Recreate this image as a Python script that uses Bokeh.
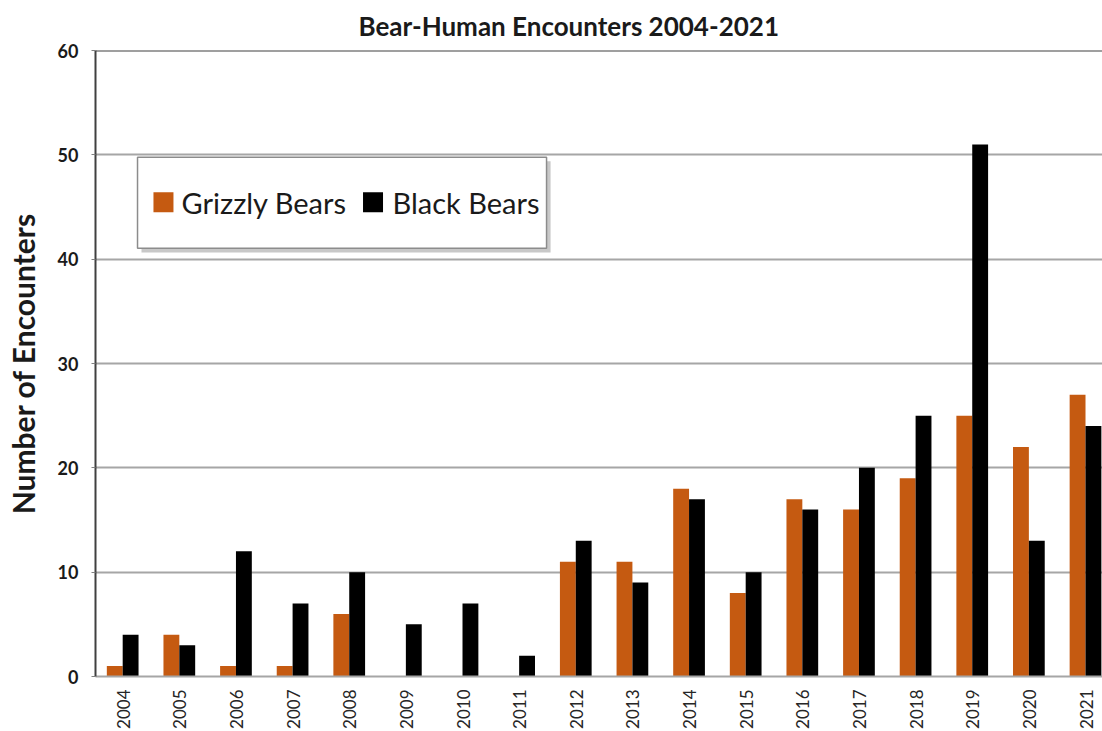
from math import pi

from bokeh.core.properties import value
from bokeh.embed import file_html
from bokeh.models import ColumnDataSource, FixedTicker, Range1d, Span
from bokeh.plotting import figure
from bokeh.resources import INLINE

# Encounter counts per year
years = ["2004", "2005", "2006", "2007", "2008", "2009", "2010", "2011", "2012",
         "2013", "2014", "2015", "2016", "2017", "2018", "2019", "2020", "2021"]
grizzly = [1, 4, 1, 1, 6, 0, 0, 0, 11, 11, 18, 8, 17, 16, 19, 25, 22, 27]
black = [4, 3, 12, 7, 10, 5, 7, 2, 13, 9, 17, 10, 16, 20, 25, 51, 13, 24]
y_ticks = [0, 10, 20, 30, 40, 50, 60]

ORANGE = "#C55A11"
BLACK = "#000000"
TEXT = "#1a1a1a"
FONT = "Lato"

idx = list(range(len(years)))
src = ColumnDataSource(dict(
    idx=idx,
    x_griz=[i + 0.34 for i in idx],
    x_black=[i + 0.62 for i in idx],
    grizzly=grizzly,
    black=black,
))

p = figure(
    width=1102, height=731,
    x_range=Range1d(0, 17.78), y_range=Range1d(0, 60),
    output_backend="svg", toolbar_location=None,
    min_border_left=95, min_border_right=0, min_border_top=50, min_border_bottom=55,
)
p.outline_line_color = None
p.background_fill_color = "white"
p.border_fill_color = "white"

# title
p.title.text = "Bear-Human Encounters 2004-2021"
p.title.text_font = FONT
p.title.text_font_style = "bold"
p.title.text_font_size = "26px"
p.title.text_color = TEXT
p.title.align = "left"
p.title.offset = 263
p.title.vertical_align = "middle"
p.title.standoff = 16

# bars
bw = 0.28
p.vbar(x="x_griz", top="grizzly", width=bw, source=src, fill_color=ORANGE, line_color=None)
p.vbar(x="x_black", top="black", width=bw, source=src, fill_color=BLACK, line_color=None)

# y axis
p.yaxis.ticker = FixedTicker(ticks=y_ticks)
p.yaxis.axis_line_color = "#404040"
p.yaxis.axis_line_width = 2
p.yaxis.major_tick_in = 0
p.yaxis.major_tick_out = 4
p.yaxis.major_tick_line_color = "#808080"
p.yaxis.minor_tick_line_color = None
p.yaxis.major_label_standoff = 13
p.yaxis.major_label_text_font = FONT
p.yaxis.major_label_text_font_style = "bold"
p.yaxis.major_label_text_font_size = "18px"
p.yaxis.major_label_text_color = TEXT
p.yaxis.axis_label = "Number of Encounters"
p.yaxis.axis_label_text_font = FONT
p.yaxis.axis_label_text_font_style = "bold"
p.yaxis.axis_label_text_font_size = "30px"
p.yaxis.axis_label_text_color = TEXT
p.yaxis.axis_label_standoff = 14

# x axis: one tick per year, labels written vertically
p.xaxis.ticker = FixedTicker(ticks=[i + 0.49 for i in idx])
p.xaxis.major_label_overrides = {i + 0.49: y for i, y in zip(idx, years)}
p.xaxis.major_label_orientation = pi / 2
p.xaxis.axis_line_color = "#a6a6a6"
p.xaxis.axis_line_width = 2
p.xaxis.major_tick_line_color = None
p.xaxis.minor_tick_line_color = None
p.xaxis.major_label_standoff = 7
p.xaxis.major_label_text_font = FONT
p.xaxis.major_label_text_font_size = "17px"
p.xaxis.major_label_text_color = "#262626"

# grid
p.xgrid.grid_line_color = None
p.ygrid.ticker = FixedTicker(ticks=y_ticks[1:-1])
p.ygrid.grid_line_color = "#a6a6a6"
p.ygrid.grid_line_width = 2

# top border of the plot area
p.add_layout(Span(location=60, dimension="width", line_color="#404040", line_width=2))

# legend panel with a soft drop shadow
p.quad(left=0.812, right=8.035, top=49.38, bottom=40.65,
       fill_color="#9a9a9a", fill_alpha=0.55, line_color=None)
p.quad(left=0.742, right=7.964, top=49.76, bottom=41.04,
       fill_color="white", line_color="#8c8c8c", line_width=1.5)
p.rect(x=[1.2, 4.9], y=[45.45, 45.45], width=20, height=20,
       width_units="screen", height_units="screen",
       fill_color=[ORANGE, BLACK], line_color=None)
p.text(x=[1.52, 5.245], y=[45.45, 45.45], text=["Grizzly Bears", "Black Bears"],
       text_font=value(FONT), text_font_size="29px", text_color=TEXT,
       text_align="left", text_baseline="middle")

open("out.html", "w").write(file_html(p, INLINE))
